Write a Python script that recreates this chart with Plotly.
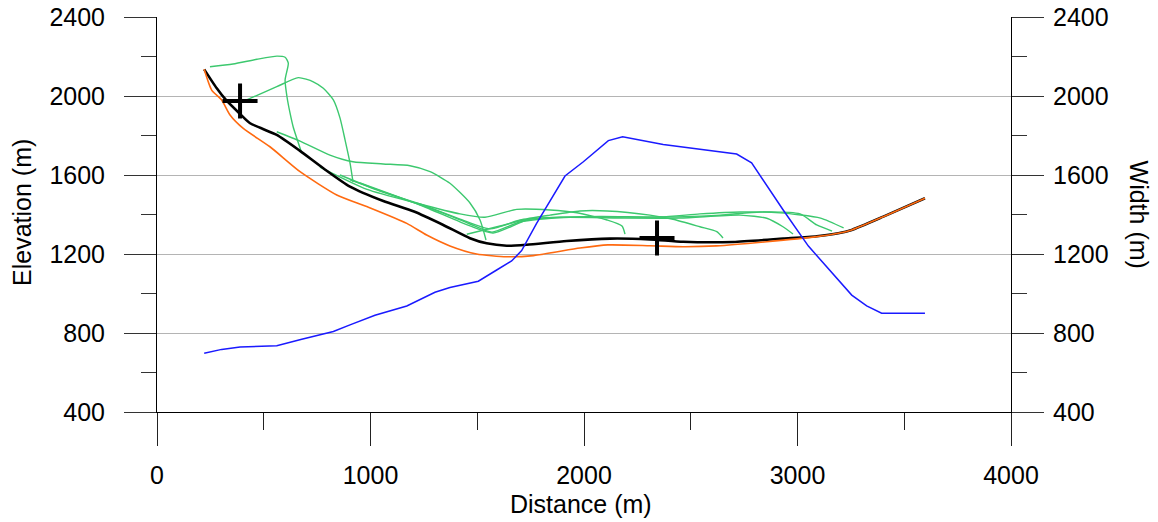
import plotly.graph_objects as go

# ---- data ----
width_x = [221, 303, 389, 561, 678, 826, 904, 1021, 1170, 1302, 1372, 1505, 1591, 1661, 1708,
           1778, 1911, 1997, 2114, 2181, 2371, 2715, 2785, 2933, 3051, 3254, 3324, 3394, 3597]
width_y = [697, 717, 729, 736, 768, 808, 841, 890, 937, 1006, 1030, 1062, 1119, 1165, 1217,
           1355, 1595, 1667, 1774, 1794, 1755, 1706, 1662, 1423, 1240, 992, 937, 900, 900]

black_x = [221, 280, 323, 389, 436, 561, 670, 779, 904, 1060, 1204, 1341, 1466, 1544, 1638, 1732,
           1919, 2122, 2309, 2465, 2699, 2933, 3090, 3191, 3254, 3402, 3597]
black_y = [2135, 2039, 1980, 1909, 1862, 1803, 1722, 1634, 1541, 1468, 1415, 1347, 1280, 1254, 1242, 1247,
           1266, 1278, 1274, 1262, 1261, 1278, 1290, 1305, 1322, 1389, 1482]

orange_x = [221, 256, 303, 342, 404, 529, 670, 842, 982, 1170, 1263, 1372, 1497, 1638, 1763, 1981,
            2112, 2309, 2465, 2621, 2856, 3090, 3191, 3254, 3402, 3597]
orange_y = [2135, 2030, 1980, 1904, 1836, 1743, 1617, 1499, 1440, 1355, 1296, 1241, 1200, 1186, 1192, 1230,
            1246, 1242, 1237, 1241, 1262, 1288, 1305, 1322, 1389, 1482]

green_a_x = [248, 356, 468, 562, 600, 615, 600, 609, 623, 638, 678]
green_a_y = [2148, 2162, 2186, 2202, 2196, 2166, 2081, 1995, 1914, 1843, 1711]
green_b_x = [420, 561, 662, 732, 779, 826, 857, 881, 904, 918]
green_b_y = [1980, 2047, 2093, 2072, 2039, 1980, 1889, 1777, 1661, 1565]
green_c_x = [561, 670, 810, 918, 1059, 1185, 1279, 1372, 1466, 1513, 1541]
green_c_y = [1819, 1772, 1701, 1667, 1656, 1647, 1617, 1558, 1458, 1372, 1271]
green_d_x = [763, 984, 1218, 1419, 1536, 1685, 1841, 1967, 2108, 2178, 2192]
green_d_y = [1640, 1527, 1457, 1403, 1386, 1426, 1423, 1409, 1372, 1342, 1301]
green_e_x = [857, 1044, 1232, 1419, 1560, 1700, 1841, 1981, 2108, 2309, 2417, 2543, 2622, 2651]
green_e_y = [1600, 1519, 1453, 1377, 1327, 1372, 1397, 1418, 1418, 1397, 1376, 1338, 1313, 1281]
green_f_x = [904, 1138, 1326, 1466, 1569, 1700, 1888, 2169, 2450, 2731, 2856, 2932, 2979]
green_f_y = [1575, 1484, 1413, 1352, 1311, 1362, 1385, 1382, 1382, 1397, 1381, 1338, 1301]
green_g_x = [951, 1232, 1466, 1574, 1747, 1981, 2356, 2637, 2824, 3012, 3090, 3162]
green_g_y = [1560, 1448, 1342, 1306, 1377, 1387, 1387, 1397, 1413, 1403, 1347, 1316]
green_h_x = [1451, 1607, 1747, 2075, 2356, 2543, 2731, 2918, 3108, 3216]
green_h_y = [1300, 1342, 1377, 1390, 1387, 1403, 1413, 1408, 1382, 1332]

cross_x = [389, 2342]
cross_y = [1975, 1281]

x_ticks = [0, 1000, 2000, 3000, 4000]
y_ticks = [400, 800, 1200, 1600, 2000, 2400]

FONT = "Arial, Liberation Sans, sans-serif"
GREEN = "#3cc86e"

fig = go.Figure()

greens = [(green_a_x, green_a_y), (green_b_x, green_b_y), (green_c_x, green_c_y),
          (green_d_x, green_d_y), (green_e_x, green_e_y), (green_f_x, green_f_y),
          (green_g_x, green_g_y), (green_h_x, green_h_y)]
for gx, gy in greens:
    fig.add_trace(go.Scatter(x=gx, y=gy, mode="lines",
                             line=dict(color=GREEN, width=1.4, shape="spline", smoothing=0.6),
                             showlegend=False, hoverinfo="skip"))

fig.add_trace(go.Scatter(x=black_x, y=black_y, mode="lines",
                         line=dict(color="black", width=2.6, shape="spline", smoothing=0.6),
                         showlegend=False))
fig.add_trace(go.Scatter(x=orange_x, y=orange_y, mode="lines",
                         line=dict(color="#ff6a10", width=1.6, shape="spline", smoothing=0.6),
                         showlegend=False))
fig.add_trace(go.Scatter(x=width_x, y=width_y, mode="lines", yaxis="y2",
                         line=dict(color="#1a1aff", width=1.5),
                         showlegend=False))
fig.add_trace(go.Scatter(x=cross_x, y=cross_y, mode="markers",
                         marker=dict(symbol="cross-thin", size=25,
                                     line=dict(color="black", width=4)),
                         showlegend=False))

tickfont = dict(family=FONT, size=25, color="black")

fig.update_layout(
    width=1158, height=522,
    margin=dict(l=157, r=147, t=17, b=110, autoexpand=False),
    paper_bgcolor="white", plot_bgcolor="white",
    font=dict(family=FONT, size=25, color="black"),
    xaxis=dict(range=[0, 4000], tickvals=x_ticks, ticks="outside", ticklen=33,
               tickwidth=1, tickcolor="#222", showline=True, linecolor="black", linewidth=1,
               showgrid=False, zeroline=False, tickfont=tickfont, ticklabelstandoff=8,
               automargin=False,
               minor=dict(ticks="outside", ticklen=17, dtick=500, tickcolor="#222",
                          tickwidth=1, showgrid=False)),
    yaxis=dict(range=[400, 2400], tickvals=y_ticks, ticks="outside", ticklen=32,
               tickwidth=1, tickcolor="#333", showline=True, linecolor="black", linewidth=1,
               showgrid=True, gridcolor="#b4b4b4", gridwidth=1.3, zeroline=False,
               tickfont=tickfont, ticklabelstandoff=14, automargin=False,
               minor=dict(ticks="outside", ticklen=15, dtick=200, tick0=400,
                          tickcolor="#333", tickwidth=1, showgrid=False)),
    yaxis2=dict(range=[400, 2400], tickvals=y_ticks, overlaying="y", side="right",
                ticks="outside", ticklen=32, tickwidth=1, tickcolor="#333",
                showline=True, linecolor="black", linewidth=1, showgrid=False,
                zeroline=False, tickfont=tickfont, ticklabelstandoff=4, automargin=False,
                minor=dict(ticks="outside", ticklen=15, dtick=200, tick0=400,
                           tickcolor="#333", tickwidth=1, showgrid=False)),
    annotations=[
        dict(text="Elevation (m)", xref="paper", yref="paper", x=-0.158, y=0.504,
             textangle=-90, showarrow=False, xanchor="center", yanchor="middle",
             font=dict(family=FONT, size=25, color="black")),
        dict(text="Width (m)", xref="paper", yref="paper", x=1.151, y=0.5,
             textangle=90, showarrow=False, xanchor="center", yanchor="middle",
             font=dict(family=FONT, size=25, color="black")),
        dict(text="Distance (m)", xref="paper", yref="paper", x=0.4965, y=-0.233,
             showarrow=False, xanchor="center", yanchor="middle",
             font=dict(family=FONT, size=25, color="black")),
    ],
)

fig.write_html("out.html")
